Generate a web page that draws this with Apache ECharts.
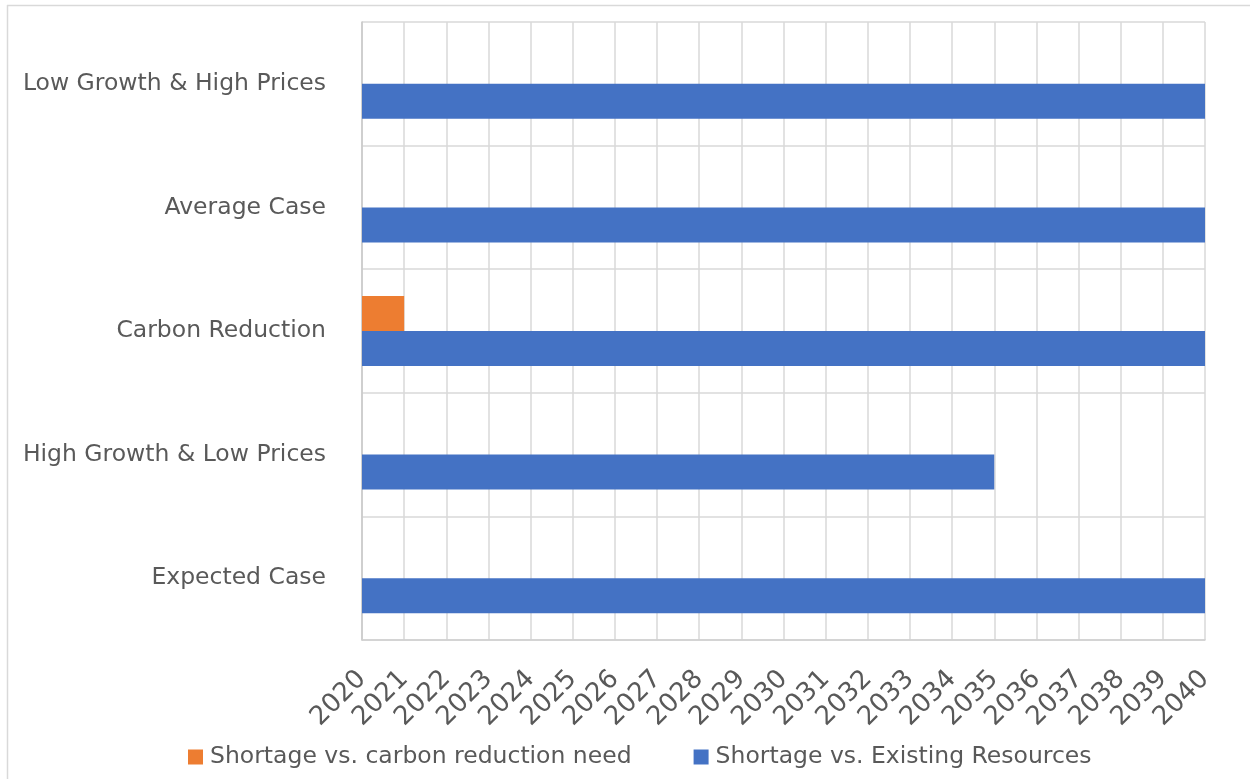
<!DOCTYPE html>
<html>
<head>
<meta charset="utf-8">
<script src="https://cdn.jsdelivr.net/npm/echarts@6/dist/echarts.min.js"></script>
<style>
html,body{margin:0;padding:0;background:#fff;}
#chart{width:1250px;height:779px;}
</style>
</head>
<body>
<div id="chart"></div>
<script>
const categories = ['Expected Case', 'High Growth & Low Prices', 'Carbon Reduction', 'Average Case', 'Low Growth & High Prices'];
const seriesNames = ['Shortage vs. carbon reduction need', 'Shortage vs. Existing Resources'];
const carbonNeed = [null, null, 2021, null, null];
const existingResources = [2040, 2035, 2040, 2040, 2040];
const yearMin = 2020;
const yearMax = 2040;

const chart = echarts.init(document.getElementById('chart'), null, {renderer: 'canvas'});
const FONT = 'DejaVu Sans';
const TXT = '#595959';
chart.setOption({
  animation: false,
  backgroundColor: '#ffffff',
  grid: {left: 362, right: 45, top: 22, bottom: 139, containLabel: false},
  legend: {
    left: 183, top: 740,
    itemWidth: 15, itemHeight: 15, itemGap: 62,
    icon: 'rect',
    textStyle: {color: TXT, fontSize: 23.5, fontFamily: FONT, padding: [0, 0, 0, 2]},
    data: seriesNames
  },
  xAxis: {
    type: 'value',
    min: yearMin, max: yearMax, interval: 1,
    axisLine: {show: true, lineStyle: {color: '#d0d0d0', width: 1.5}},
    axisTick: {show: false},
    splitLine: {show: true, lineStyle: {color: '#d9d9d9', width: 1.5}},
    axisLabel: {rotate: 45, color: TXT, fontSize: 26, fontFamily: FONT, margin: 35, formatter: v => String(v)}
  },
  yAxis: {
    type: 'category',
    data: categories,
    axisLine: {show: true, lineStyle: {color: '#c8c8c8', width: 1.5}},
    axisTick: {show: false},
    splitLine: {show: true, lineStyle: {color: '#d9d9d9', width: 1.5}},
    axisLabel: {color: TXT, fontSize: 23.5, fontFamily: FONT, margin: 36, verticalAlign: 'middle'}
  },
  series: [
    {name: seriesNames[0], type: 'bar', data: carbonNeed, barWidth: 35, barGap: '0%', clip: true,
     itemStyle: {color: '#ed7d31'}},
    {name: seriesNames[1], type: 'bar', data: existingResources, barWidth: 35, barGap: '0%', clip: true,
     itemStyle: {color: '#4472c4'}}
  ],
  graphic: [
    {type: 'line', shape: {x1: 7, y1: 5.5, x2: 1250, y2: 5.5}, style: {stroke: '#d9d9d9', lineWidth: 1.5}},
    {type: 'line', shape: {x1: 7.5, y1: 5, x2: 7.5, y2: 779}, style: {stroke: '#d9d9d9', lineWidth: 1.5}}
  ]
});
</script>
</body>
</html>
